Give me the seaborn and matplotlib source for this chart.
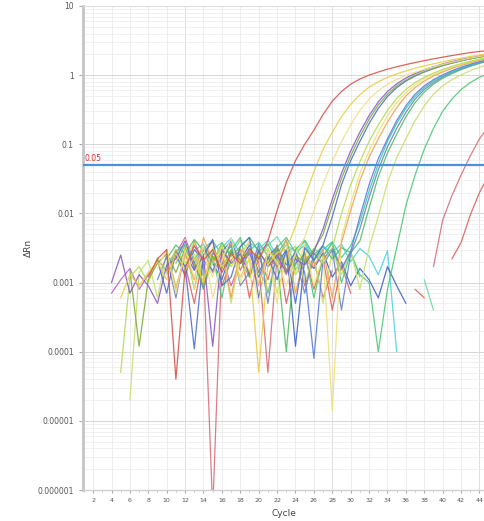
import numpy as np
import pandas as pd
import matplotlib.pyplot as plt
import seaborn as sns

nan = np.nan

# Delta Rn per cycle for every well (first value sits at first_cycle[well])
red_a = [0.0012, 0.0022, 0.0030, 0.00004, 0.0016, 0.0034, 0.0021, 0.0030, 0.0014, 0.0026,
         0.0019, 0.0031, 0.0022, 0.0040, 0.011, 0.028, 0.058, 0.10, 0.16, 0.27, 0.42, 0.58,
         0.74, 0.88, 1.00, 1.11, 1.22, 1.32, 1.42, 1.52, 1.62, 1.72, 1.82, 1.92, 2.02, 2.12,
         2.20, 2.28]
yellow_a = [0.0006, 0.0013, 0.0009, 0.0014, 0.0020, 0.0011, 0.0027, 0.0015, 0.0023, 0.0010,
            0.0032, 0.0017, 0.0025, 0.0012, 0.0022, 0.00005, 0.0018, 0.0027, 0.0030, 0.0065,
            0.017, 0.040, 0.085, 0.15, 0.25, 0.38, 0.52, 0.67, 0.80, 0.93, 1.04, 1.15, 1.26,
            1.36, 1.46, 1.56, 1.66, 1.76, 1.86, 1.96, 2.05]
yellow_b = [0.0016, 0.0030, 0.0007, 0.0030, 0.0012, 0.0034, 0.0006, 0.0021, 0.0044, 0.0010,
            0.0024, 0.0005, 0.0029, 0.0020, 0.0009, 0.0026, 0.0045, 0.011, 0.027, 0.056, 0.11,
            0.19, 0.31, 0.45, 0.60, 0.74, 0.87, 0.99, 1.10, 1.21, 1.32, 1.43, 1.54, 1.65, 1.76,
            1.86, 1.96]
purple_a = [0.0010, 0.0025, 0.0007, 0.0013, 0.0009, 0.0005, 0.0018, 0.0022, 0.0040, 0.0016,
            0.0024, 0.00012, 0.0030, 0.0019, 0.0026, 0.0013, 0.0029, 0.0017, 0.0025, 0.0014,
            0.0022, 0.0018, 0.0028, 0.0060, 0.016, 0.038, 0.080, 0.15, 0.26, 0.41, 0.58, 0.75,
            0.91, 1.05, 1.19, 1.32, 1.45, 1.57, 1.68, 1.78, 1.88, 1.97]
olive_a = [0.0015, 0.00012, 0.0011, 0.0019, 0.0026, 0.0014, 0.0031, 0.0018, 0.0009, 0.0024,
           0.0016, 0.0030, 0.0021, 0.0012, 0.0027, 0.0019, 0.0033, 0.0015, 0.0024, 0.0020,
           0.0030, 0.0050, 0.013, 0.032, 0.068, 0.13, 0.23, 0.37, 0.53, 0.70, 0.85, 0.99, 1.12,
           1.25, 1.38, 1.50, 1.61, 1.72, 1.82, 1.92]
blue_a = [0.0021, 0.0007, 0.0028, 0.0017, 0.00011, 0.0025, 0.0042, 0.0009, 0.0012, 0.0033,
          0.0045, 0.0006, 0.0024, 0.0011, 0.0029, 0.0005, 0.0032, 0.0021, 0.0035, 0.009, 0.026,
          0.058, 0.11, 0.20, 0.33, 0.49, 0.66, 0.82, 0.97, 1.11, 1.24, 1.37, 1.49, 1.61, 1.72,
          1.83, 1.93]
lime_a = [0.00005, 0.0012, 0.0017, 0.0010, 0.0023, 0.0014, 0.0030, 0.0019, 0.0026, 0.0012,
          0.0022, 0.0034, 0.0017, 0.0028, 0.0014, 0.0024, 0.0031, 0.0018, 0.0026, 0.0013,
          0.0021, 0.0029, 0.0019, 0.0032, 0.010, 0.026, 0.056, 0.11, 0.19, 0.31, 0.46, 0.62,
          0.78, 0.93, 1.07, 1.21, 1.34, 1.47, 1.59, 1.71, 1.82]
orange_a = [0.0030, 0.0008, 0.0026, 0.0011, 0.0045, 0.0020, 0.0027, 0.0006, 0.0031, 0.0022,
            0.0009, 0.0029, 0.0019, 0.0042, 0.0007, 0.0025, 0.0017, 0.0030, 0.0006, 0.0038,
            0.011, 0.030, 0.065, 0.12, 0.21, 0.34, 0.50, 0.66, 0.82, 0.97, 1.11, 1.25, 1.38,
            1.51, 1.63, 1.75]
yellow_c = [0.0020, 0.0042, 0.0008, 0.0025, 0.0012, 0.0035, 0.0006, 0.0023, 0.0040, 0.0010,
            0.0026, 0.0005, 0.0028, 0.0014, 0.0036, 0.0009, 0.0024, 0.000014, 0.0045, 0.014,
            0.038, 0.080, 0.15, 0.26, 0.40, 0.56, 0.72, 0.88, 1.02, 1.16, 1.30, 1.43, 1.55,
            1.67, 1.78]
blue_b = [0.0017, 0.0025, 0.0013, 0.0030, 0.0021, 0.0015, 0.0028, 0.0040, 0.0019, 0.0026,
          0.0012, 0.0024, 0.0033, 0.0018, 0.0027, 0.0014, 0.00008, 0.0022, 0.0031, 0.0016,
          0.0028, 0.0090, 0.026, 0.062, 0.12, 0.22, 0.36, 0.53, 0.70, 0.86, 1.01, 1.16, 1.30,
          1.44, 1.57, 1.70]
teal_a = [0.0028, 0.0036, 0.0022, 0.0031, 0.0040, 0.0025, 0.0033, 0.0019, 0.0029, 0.0038,
          0.0024, 0.0032, 0.0045, 0.0027, 0.0035, 0.0021, 0.0030, 0.0039, 0.0023, 0.0034,
          0.0075, 0.021, 0.052, 0.11, 0.20, 0.33, 0.49, 0.66, 0.82, 0.97, 1.12, 1.26, 1.40,
          1.53, 1.66]
slate_a = [0.0011, 0.0024, 0.0006, 0.0030, 0.0020, 0.0008, 0.0027, 0.0018, 0.0040, 0.0009,
           0.0014, 0.0036, 0.0005, 0.0031, 0.0015, 0.0023, 0.0007, 0.0027, 0.0018, 0.0030,
           0.0004, 0.0026, 0.0060, 0.017, 0.043, 0.092, 0.17, 0.29, 0.45, 0.62, 0.78, 0.94,
           1.09, 1.23, 1.37, 1.50, 1.63]
green_b = [0.0022, 0.0035, 0.0026, 0.0042, 0.0029, 0.0020, 0.0037, 0.0024, 0.0033, 0.0045,
           0.0028, 0.0036, 0.0021, 0.00010, 0.0030, 0.0041, 0.0025, 0.0034, 0.0022, 0.0032,
           0.0027, 0.0040, 0.012, 0.034, 0.075, 0.14, 0.25, 0.40, 0.57, 0.74, 0.90, 1.05, 1.20,
           1.34, 1.48, 1.61]
lime_b = [0.00002, 0.0014, 0.0021, 0.0006, 0.0027, 0.0009, 0.0023, 0.0038, 0.0008, 0.0020,
          0.0032, 0.0005, 0.0025, 0.0040, 0.0012, 0.0026, 0.0007, 0.0022, 0.0034, 0.0010,
          0.0024, 0.0005, 0.0028, 0.0013, 0.0030, 0.0008, 0.0032, 0.0090, 0.028, 0.064, 0.12,
          0.22, 0.36, 0.53, 0.70, 0.86, 1.01, 1.16, 1.30, 1.44]
green_c = [0.0019, 0.0035, 0.0008, 0.0033, 0.0024, 0.0006, 0.0029, 0.0045, 0.0012, 0.0030,
           0.0007, 0.0026, 0.0041, 0.0015, 0.0028, 0.0006, 0.0024, 0.0038, 0.0010, 0.0027,
           0.0013, 0.0010, 0.00010, 0.0008, 0.0032, 0.013, 0.036, 0.085, 0.17, 0.30, 0.45,
           0.62, 0.78, 0.93, 1.06]
red_b = [0.0015, 0.0030, 0.0012, 0.0040, 0.0018, 0.0000005, 0.0022, 0.0035, 0.0015, 0.0028,
         0.0020, 0.00005, 0.0024, 0.0013, 0.0030, 0.0009, 0.0021, 0.0006, 0.0015,
         nan, nan, nan, nan, nan, nan, nan, nan, nan, nan,
         0.0017, 0.008, 0.018, 0.036, 0.068, 0.12, 0.18]
red_c = [0.0018, 0.0005, 0.0025, 0.0040, 0.0009, 0.0021, 0.0030, 0.0006, 0.0024, 0.0011,
         0.0035, 0.0005, 0.0019, 0.0026, 0.0008, 0.0022, 0.0004, 0.0018, 0.0007,
         nan, nan, nan, nan, nan, nan, 0.0008, 0.0006, nan, nan,
         0.0022, 0.0038, 0.0095, 0.020, 0.036]
cyan_a = [0.0013, 0.0024, 0.0017, 0.0029, 0.0036, 0.0021, 0.0032, 0.0044, 0.0026, 0.0038,
          0.0030, 0.0041, 0.0024, 0.0035, 0.0028, 0.0039, 0.0022, 0.0033, 0.0027, 0.0036,
          0.0020, 0.0031, 0.0024, 0.0013, 0.0029, 0.00010]
blue_d = [0.0026, 0.0015, 0.0032, 0.0019, 0.0011, 0.0028, 0.0021, 0.0035, 0.0014, 0.0025,
          0.0018, 0.0030, 0.00012, 0.0022, 0.0016, 0.0027, 0.0012, 0.0020, 0.0009, 0.0016,
          0.0011, 0.0006, 0.0017, 0.0009, 0.0005]
magenta_a = [0.0007, 0.0011, 0.0016, 0.0008, 0.0013, 0.0021, 0.0015, 0.0026, 0.0045, 0.0019,
             0.0030, 0.0014, 0.0024, 0.0009, 0.0020, 0.0028, 0.0012, 0.0023, 0.0017, 0.0026,
             0.0015]
mint_a = [0.0019, 0.0027, 0.0034, 0.0022, 0.0016, 0.0030, 0.0038, 0.0025, 0.0041, 0.0029,
          0.0022, 0.0035, 0.0046, 0.0027, 0.0033, 0.0019, 0.0031, 0.0024, 0.0037, 0.0015,
          0.0026, 0.0012, nan, nan, nan, nan, nan, nan, 0.0011, 0.0004]

first_cycle = {'magenta_a': 4, 'purple_a': 4, 'yellow_a': 5, 'lime_a': 5, 'lime_b': 6,
               'olive_a': 6, 'red_a': 8, 'yellow_b': 9, 'blue_a': 9, 'slate_a': 9,
               'orange_a': 10, 'blue_b': 10, 'green_b': 10, 'red_b': 10, 'cyan_a': 10,
               'mint_a': 10, 'yellow_c': 11, 'teal_a': 11, 'green_c': 11, 'red_c': 12,
               'blue_d': 12}

well_colors = {'red_a': '#d9534c', 'yellow_a': '#e9cf45', 'yellow_b': '#efe08c',
               'purple_a': '#8a5cc8', 'olive_a': '#7fae3a', 'blue_a': '#4d6fd3',
               'lime_a': '#b5dc55', 'orange_a': '#eea456', 'yellow_c': '#f2e072',
               'blue_b': '#5a7be0', 'teal_a': '#3ec9a3', 'slate_a': '#6c84c6',
               'green_b': '#52c060', 'lime_b': '#c8e070', 'green_c': '#4fc878',
               'red_b': '#d8707a', 'red_c': '#e0605c', 'cyan_a': '#4fd2e0',
               'blue_d': '#4262c9', 'magenta_a': '#c062c0', 'mint_a': '#6fd8a2'}

# drawing order, last one on top
wells = {'magenta_a': magenta_a, 'cyan_a': cyan_a, 'mint_a': mint_a, 'blue_d': blue_d,
         'red_c': red_c, 'red_b': red_b, 'green_c': green_c, 'lime_b': lime_b,
         'green_b': green_b, 'slate_a': slate_a, 'teal_a': teal_a, 'blue_b': blue_b,
         'yellow_c': yellow_c, 'orange_a': orange_a, 'lime_a': lime_a, 'blue_a': blue_a,
         'olive_a': olive_a, 'purple_a': purple_a, 'yellow_b': yellow_b,
         'yellow_a': yellow_a, 'red_a': red_a}

threshold = 0.05
y_ticks = [1e-6, 1e-5, 1e-4, 1e-3, 1e-2, 1e-1, 1, 10]
y_labels = ['0.000001', '0.00001', '0.0001', '0.001', '0.01', '0.1', '1', '10']
x_ticks = list(range(2, 45, 2))

# long table, a NaN breaks a trace into separate segments
rows = []
for name, values in wells.items():
    seg = 0
    for i, v in enumerate(values):
        if np.isnan(v):
            seg += 1
            continue
        rows.append((name, f'{name}_{seg}', first_cycle[name] + i, v))
df = pd.DataFrame(rows, columns=['well', 'segment', 'cycle', 'drn'])

sns.set_style('white')
fig = plt.figure(figsize=(4.85, 5.21), dpi=100)
ax = fig.add_axes([0.1711, 0.0595, 0.8289, 0.929])

sns.lineplot(data=df, x='cycle', y='drn', hue='well', units='segment', estimator=None,
             palette=well_colors, legend=False, linewidth=0.9, alpha=0.9, ax=ax)
ax.set_yscale('log')
ax.set_ylim(1e-6, 10)
ax.set_xlim(0.9, 44.6)

ax.axhline(threshold, color='#4a90dc', lw=1.6, zorder=5)
ax.text(1.1, threshold * 1.08, '0.05', color='#d03030', fontsize=5.5, va='bottom', ha='left')

ax.set_yticks(y_ticks, y_labels)
ax.set_xticks(x_ticks)
ax.set_xticks(range(1, 45), minor=True)
ax.tick_params(axis='y', which='major', labelsize=5.5, labelcolor='#555555', length=3,
               color='#aaaaaa', direction='out', left=True)
ax.tick_params(axis='y', which='minor', left=False)
ax.tick_params(axis='x', which='major', labelsize=4.5, labelcolor='#555555', length=2,
               color='#aaaaaa', bottom=True, pad=4)
ax.tick_params(axis='x', which='minor', length=1.5, color='#bbbbbb', bottom=True)

ax.grid(True, which='major', axis='y', color='#d6d6d6', lw=0.7)
ax.grid(True, which='minor', axis='y', color='#ececec', lw=0.5)
ax.grid(True, which='major', axis='x', color='#e6e6e6', lw=0.5)
for c in [12, 28, 44]:
    ax.axvline(c, color='#d4d4d4', lw=0.7, zorder=0)
ax.set_axisbelow(True)

for side in ['top', 'right']:
    ax.spines[side].set_color('#dddddd')
    ax.spines[side].set_linewidth(0.8)
ax.spines['left'].set_color('#c4c4c4')
ax.spines['left'].set_linewidth(2)
ax.spines['bottom'].set_color('#d0d0d0')
ax.spines['bottom'].set_linewidth(1)

ax.set_xlabel('Cycle', fontsize=6.5, color='#444444', labelpad=4)
ax.set_ylabel('ΔRn', fontsize=6.5, color='#444444')
ax.yaxis.set_label_coords(-0.125, 0.5)

fig.savefig('out.png', dpi=100)
